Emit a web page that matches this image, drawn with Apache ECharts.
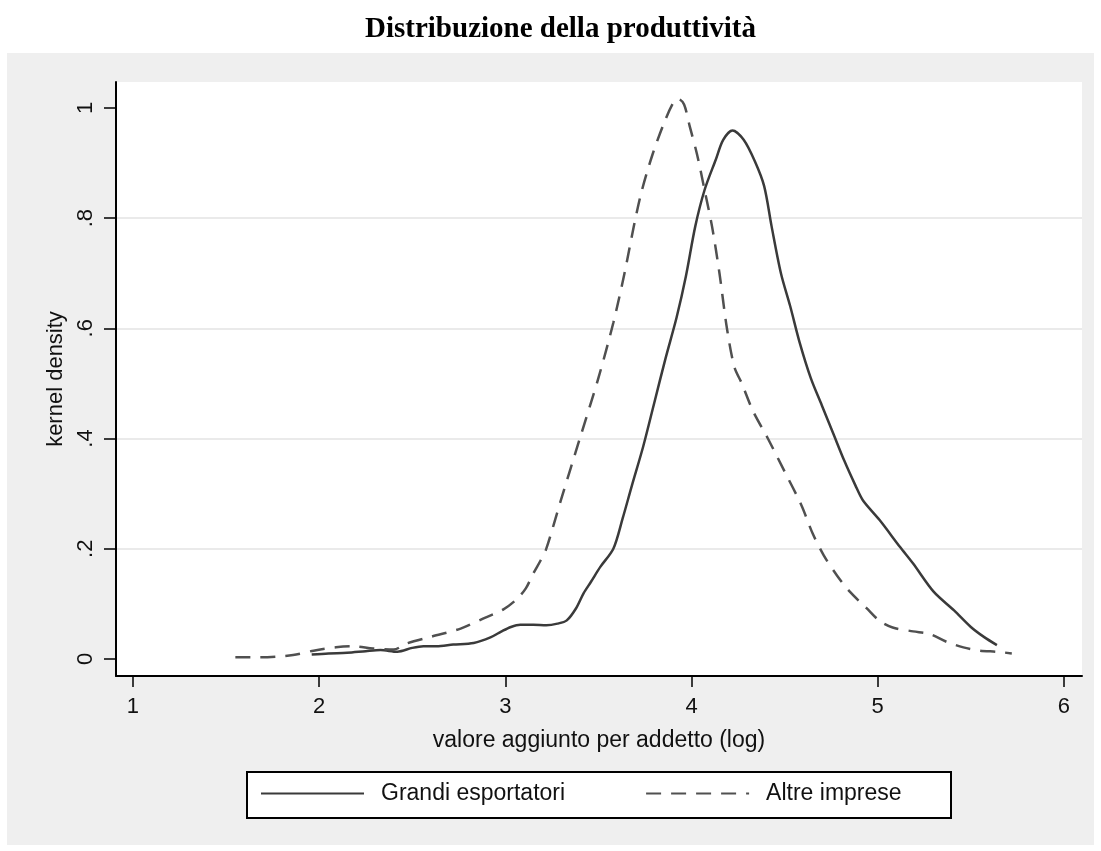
<!DOCTYPE html>
<html>
<head>
<meta charset="utf-8">
<title>Distribuzione della produttività</title>
<script src="https://cdn.jsdelivr.net/npm/echarts@6/dist/echarts.min.js"></script>
<style>
  html, body { margin: 0; padding: 0; background: #ffffff; }
  #chart { width: 1101px; height: 851px; }
</style>
</head>
<body>
<div id="chart"></div>
<script>
// Kernel density of log value added per employee, two groups of firms
const seriesNames = ['Grandi esportatori', 'Altre imprese'];

const grandiX = [1.96, 2.05, 2.15, 2.25, 2.33, 2.42, 2.50, 2.56, 2.63, 2.72, 2.83, 2.92, 2.98, 3.03, 3.08, 3.15, 3.22, 3.28, 3.33, 3.38, 3.42, 3.46, 3.51, 3.58, 3.63, 3.68, 3.74, 3.80, 3.86, 3.92, 3.97, 4.02, 4.07, 4.13, 4.17, 4.22, 4.28, 4.34, 4.39, 4.43, 4.48, 4.53, 4.58, 4.64, 4.70, 4.76, 4.82, 4.88, 4.92, 5.01, 5.12, 5.19, 5.30, 5.41, 5.50, 5.57, 5.64];
const grandiY = [0.008, 0.010, 0.011, 0.014, 0.016, 0.013, 0.020, 0.023, 0.023, 0.026, 0.029, 0.039, 0.050, 0.058, 0.062, 0.062, 0.061, 0.064, 0.070, 0.092, 0.119, 0.140, 0.167, 0.200, 0.255, 0.315, 0.385, 0.465, 0.545, 0.620, 0.695, 0.785, 0.851, 0.906, 0.942, 0.959, 0.942, 0.903, 0.858, 0.785, 0.700, 0.640, 0.575, 0.510, 0.460, 0.410, 0.360, 0.315, 0.288, 0.252, 0.203, 0.173, 0.122, 0.088, 0.058, 0.040, 0.025];

const altreX = [1.55, 1.68, 1.86, 1.97, 2.09, 2.18, 2.29, 2.40, 2.47, 2.61, 2.76, 2.88, 2.99, 3.06, 3.11, 3.15, 3.19, 3.22, 3.30, 3.40, 3.50, 3.58, 3.64, 3.69, 3.73, 3.79, 3.86, 3.91, 3.93, 3.96, 3.99, 4.03, 4.07, 4.11, 4.15, 4.19, 4.23, 4.27, 4.33, 4.41, 4.50, 4.59, 4.65, 4.71, 4.78, 4.85, 4.94, 5.01, 5.08, 5.19, 5.28, 5.37, 5.46, 5.55, 5.64, 5.72];
const altreY = [0.003, 0.003, 0.007, 0.015, 0.021, 0.023, 0.019, 0.017, 0.028, 0.041, 0.055, 0.073, 0.090, 0.108, 0.128, 0.155, 0.179, 0.200, 0.290, 0.400, 0.510, 0.610, 0.700, 0.785, 0.846, 0.915, 0.979, 1.014, 1.016, 1.006, 0.967, 0.915, 0.851, 0.785, 0.700, 0.600, 0.530, 0.500, 0.450, 0.400, 0.340, 0.279, 0.228, 0.188, 0.152, 0.122, 0.092, 0.069, 0.057, 0.050, 0.045, 0.031, 0.021, 0.015, 0.013, 0.010];

const xTicks = [1, 2, 3, 4, 5, 6];
const yTicks = [0, 0.2, 0.4, 0.6, 0.8, 1];

const sansFont = '"Liberation Sans", Arial, Helvetica, sans-serif';
const pairs = (xs, ys) => xs.map((x, i) => [x, ys[i]]);
const yLabel = v => (v === 0 || v === 1) ? String(v) : String(v).replace(/^0/, '');

const chart = echarts.init(document.getElementById('chart'), null, { renderer: 'canvas' });

chart.setOption({
  backgroundColor: '#ffffff',
  animation: false,
  title: {
    text: 'Distribuzione della produttività',
    left: 365,
    top: 15,
    padding: 0,
    textStyle: {
      fontFamily: '"Liberation Serif", "Times New Roman", serif',
      fontWeight: 'bold',
      fontSize: 29,
      color: '#000000'
    }
  },
  graphic: [
    {
      type: 'rect',
      z: -100,
      silent: true,
      shape: { x: 7, y: 53, width: 1087, height: 792 },
      style: { fill: '#efefef' }
    },
    {
      type: 'rect',
      z: 1,
      silent: true,
      shape: { x: 247, y: 772, width: 704, height: 46 },
      style: { fill: '#ffffff', stroke: '#000000', lineWidth: 2 }
    }
  ],
  legend: {
    data: seriesNames,
    left: 260,
    top: 782,
    padding: 0,
    itemWidth: 103,
    itemHeight: 14,
    itemGap: 80,
    itemStyle: { opacity: 0 },
    textStyle: {
      fontFamily: sansFont,
      fontSize: 23,
      color: '#111111',
      padding: [0, 0, 0, 12]
    }
  },
  grid: {
    left: 116,
    top: 82,
    right: 19,
    bottom: 175,
    show: true,
    backgroundColor: '#ffffff',
    borderWidth: 0,
    containLabel: false,
    outerBoundsMode: 'none'
  },
  xAxis: {
    type: 'value',
    min: 0.909,
    max: 6.097,
    name: 'valore aggiunto per addetto (log)',
    nameLocation: 'middle',
    nameGap: 53,
    nameTextStyle: { fontFamily: sansFont, fontSize: 23, color: '#111111' },
    axisLine: { show: true, onZero: false, lineStyle: { color: '#000000', width: 2 } },
    axisTick: {
      show: true,
      length: 11,
      customValues: xTicks,
      lineStyle: { color: '#000000', width: 1.5 }
    },
    axisLabel: {
      customValues: xTicks,
      margin: 20,
      fontFamily: sansFont,
      fontSize: 22,
      color: '#111111'
    },
    splitLine: { show: false }
  },
  yAxis: {
    type: 'value',
    min: -0.031,
    max: 1.047,
    splitNumber: 5,
    name: 'kernel density',
    nameLocation: 'middle',
    nameGap: 47,
    nameTextStyle: { fontFamily: sansFont, fontSize: 22, color: '#111111' },
    axisLine: { show: true, onZero: false, lineStyle: { color: '#000000', width: 2 } },
    axisTick: {
      show: true,
      length: 12,
      customValues: yTicks,
      lineStyle: { color: '#000000', width: 1.5 }
    },
    axisLabel: {
      customValues: yTicks,
      rotate: 90,
      margin: 19,
      fontFamily: sansFont,
      fontSize: 22,
      color: '#111111',
      formatter: yLabel
    },
    splitLine: {
      show: true,
      showMinLine: false,
      showMaxLine: false,
      lineStyle: { color: '#eaeaea', width: 2 }
    }
  },
  series: [
    {
      name: seriesNames[0],
      type: 'line',
      data: pairs(grandiX, grandiY),
      symbol: 'none',
      smooth: 0.3,
      lineStyle: { color: '#3a3a3a', width: 2.5, type: 'solid' },
      itemStyle: { color: '#3a3a3a' }
    },
    {
      name: seriesNames[1],
      type: 'line',
      data: pairs(altreX, altreY),
      symbol: 'none',
      smooth: 0.3,
      lineStyle: { color: '#505050', width: 2.5, type: [15, 10] },
      itemStyle: { color: '#505050' }
    }
  ]
});
</script>
</body>
</html>
